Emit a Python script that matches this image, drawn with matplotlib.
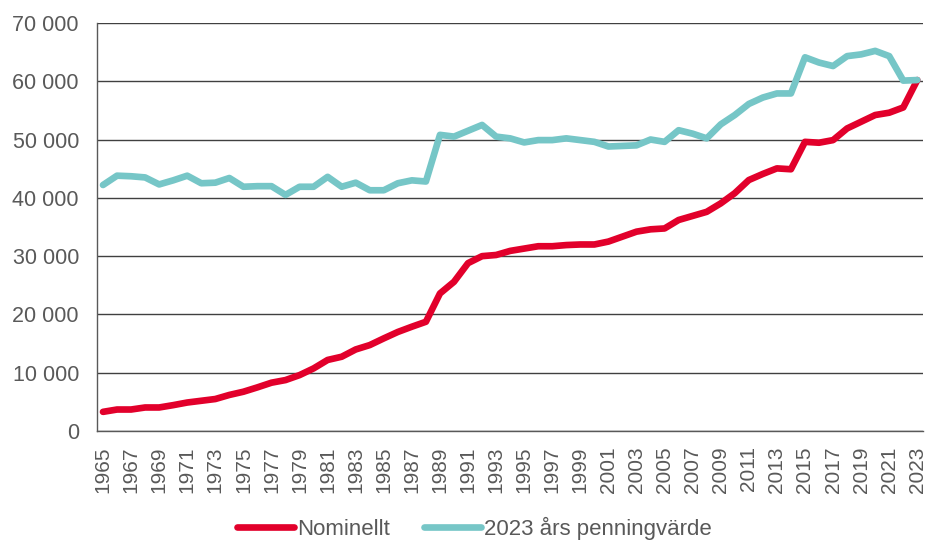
import matplotlib.pyplot as plt
from matplotlib.ticker import FuncFormatter, MultipleLocator

plt.rcParams['font.family'] = ['Liberation Sans', 'DejaVu Sans']

years = list(range(1965, 2024))

nominellt = [3300, 3700, 3700, 4050, 4050, 4450, 4900, 5200, 5500, 6200,
             6750, 7500, 8300, 8750, 9600, 10750, 12200, 12750, 14000, 14750,
             15900, 17000, 17900, 18750, 23600, 25600, 28800, 30000, 30200, 30900,
             31300, 31700, 31700, 31900, 32000, 32000, 32500, 33350, 34200, 34600,
             34750, 36200, 36900, 37600, 39050, 40800, 43050, 44100, 45050, 44900,
             49600, 49450, 49900, 51900, 53050, 54200, 54600, 55500, 60200]

penningvarde = [42200, 43800, 43700, 43500, 42300, 43000, 43800, 42500, 42600, 43400,
                41900, 42000, 42000, 40500, 41900, 41900, 43600, 41900, 42600, 41300,
                41300, 42500, 43000, 42800, 50800, 50500, 51500, 52500, 50500, 50200,
                49500, 49900, 49900, 50200, 49900, 49600, 48800, 48900, 49000, 50000,
                49600, 51600, 51000, 50200, 52600, 54200, 56100, 57200, 57900, 57900,
                64100, 63200, 62600, 64300, 64600, 65200, 64300, 60100, 60200]

grey = '#595959'

fig = plt.figure(figsize=(9.27, 5.45), dpi=100)
ax = fig.add_axes([0.1046, 0.209, 0.891, 0.749])

ax.plot(years, nominellt, color='#E2002B', lw=4.8, solid_capstyle='round',
        solid_joinstyle='round', label='Nominellt', zorder=3)
ax.plot(years, penningvarde, color='#76C6C7', lw=4.8, solid_capstyle='round',
        solid_joinstyle='round', label='2023 års penningvärde', zorder=3)

ax.set_xlim(1964.57, 2023.4)
ax.set_ylim(0, 70000)
ax.yaxis.set_major_locator(MultipleLocator(10000))
ax.yaxis.set_major_formatter(FuncFormatter(lambda v, p: f'{int(v):,}'.replace(',', ' ')))
ax.set_xticks(years[::2])
ax.set_xticklabels([str(y) for y in years[::2]], rotation=90)

ax.grid(axis='y', color='#404040', lw=1)
ax.set_axisbelow(True)
for s in ['top', 'right']:
    ax.spines[s].set_visible(False)
for s in ['left', 'bottom']:
    ax.spines[s].set_color('#595959')
    ax.spines[s].set_linewidth(1)

ax.tick_params(axis='both', length=0, colors=grey)
ax.tick_params(axis='y', pad=13, labelsize=15.5)
ax.tick_params(axis='x', pad=11, labelsize=15)

fig.legend(loc='center', bbox_to_anchor=(0.512, 0.03), ncol=2, frameon=False,
           fontsize=16, labelcolor=grey, handlelength=2.55, handletextpad=0.15,
           columnspacing=1.55, borderaxespad=0, borderpad=0)

fig.savefig('out.png', dpi=100)
